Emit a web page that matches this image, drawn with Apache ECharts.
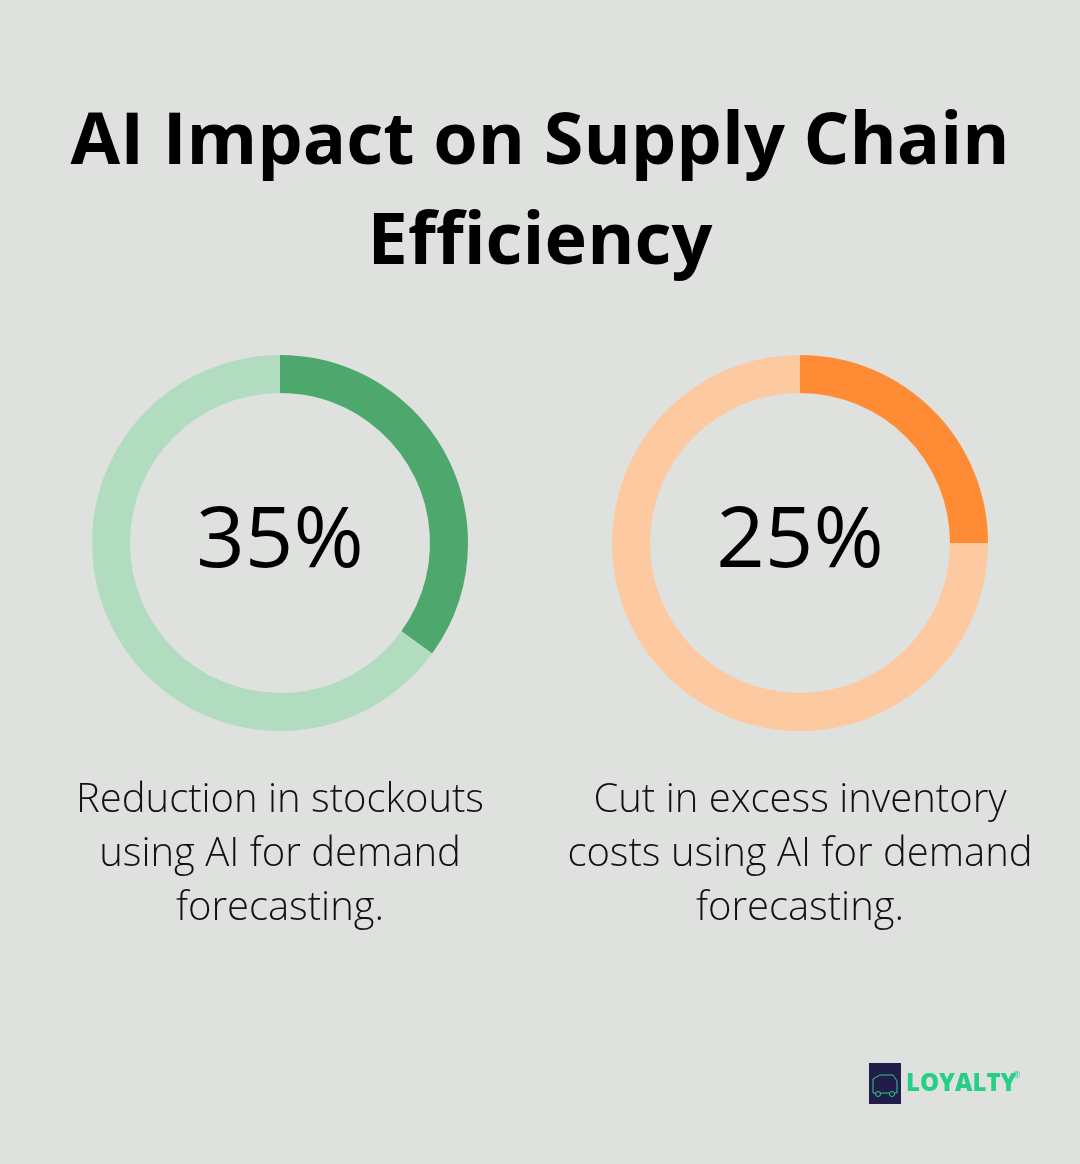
<!DOCTYPE html>
<html>
<head>
<meta charset="utf-8">
<script src="https://cdn.jsdelivr.net/npm/echarts@6/dist/echarts.min.js"></script>
<style>
  html, body { margin: 0; padding: 0; background: #dfe1df; }
  #chart { width: 1080px; height: 1164px; }
</style>
</head>
<body>
<div id="chart"></div>
<script>
// Values
const metrics = ['Stockout reduction', 'Excess inventory cost cut'];
const percentages = [35, 25];
const descriptions = [
  'Reduction in stockouts\nusing AI for demand\nforecasting.',
  'Cut in excess inventory\ncosts using AI for demand\nforecasting.'
];
const darkColors = ['#4ea86e', '#ff8c35'];
const lightColors = ['#b1dcc0', '#fdc9a0'];
const centersX = [280, 800];

const chart = echarts.init(document.getElementById('chart'), null, { renderer: 'canvas' });

const series = percentages.map((v, i) => ({
  type: 'pie',
  name: metrics[i],
  center: [centersX[i], 543],
  radius: [150, 188],
  startAngle: 90,
  clockwise: true,
  silent: true,
  label: { show: false },
  labelLine: { show: false },
  emphasis: { disabled: true },
  data: [
    { value: v, itemStyle: { color: darkColors[i] } },
    { value: 100 - v, itemStyle: { color: lightColors[i] } }
  ]
}));

const texts = [];
percentages.forEach((v, i) => {
  texts.push({
    type: 'text',
    x: centersX[i],
    y: 543,
    style: {
      text: v + '%',
      fontFamily: 'Open Sans',
      fontSize: 85,
      fill: '#000',
      align: 'center',
      verticalAlign: 'middle'
    }
  });
  texts.push({
    type: 'text',
    x: centersX[i],
    y: 774,
    style: {
      text: descriptions[i],
      fontFamily: 'Open Sans',
      fontWeight: 300,
      fontSize: 40,
      lineHeight: 54,
      fill: '#111',
      align: 'center',
      verticalAlign: 'top'
    }
  });
});

chart.setOption({
  backgroundColor: '#dfe1df',
  animation: false,
  title: {
    text: 'AI Impact on Supply Chain\nEfficiency',
    left: 'center',
    top: 88,
    textStyle: {
      fontFamily: 'Open Sans',
      fontWeight: 'bold',
      fontSize: 72,
      lineHeight: 100,
      color: '#000'
    }
  },
  series: series,
  graphic: texts.concat([
    // brand mark at the bottom right
    {
      type: 'rect',
      shape: { x: 869, y: 1063, width: 32, height: 41 },
      style: { fill: '#221c4a' }
    },
    {
      type: 'polyline',
      shape: { points: [[873, 1093], [873, 1079], [880, 1075], [893, 1075], [897, 1081], [897, 1093], [873, 1093]] },
      style: { stroke: '#25cf86', lineWidth: 1, fill: null }
    },
    {
      type: 'circle',
      shape: { cx: 878, cy: 1094, r: 2.5 },
      style: { stroke: '#25cf86', lineWidth: 1, fill: '#221c4a' }
    },
    {
      type: 'circle',
      shape: { cx: 892, cy: 1094, r: 2.5 },
      style: { stroke: '#25cf86', lineWidth: 1, fill: '#221c4a' }
    },
    {
      type: 'text',
      x: 906,
      y: 1084,
      style: {
        text: 'LOYALTY',
        fontFamily: 'Open Sans',
        fontWeight: 800,
        fontSize: 24,
        fill: '#25cf86',
        verticalAlign: 'middle'
      }
    },
    {
      type: 'text',
      x: 1013,
      y: 1075,
      style: {
        text: '®',
        fontFamily: 'Open Sans',
        fontSize: 9,
        fill: '#25cf86',
        verticalAlign: 'middle'
      }
    }
  ])
});
</script>
</body>
</html>
